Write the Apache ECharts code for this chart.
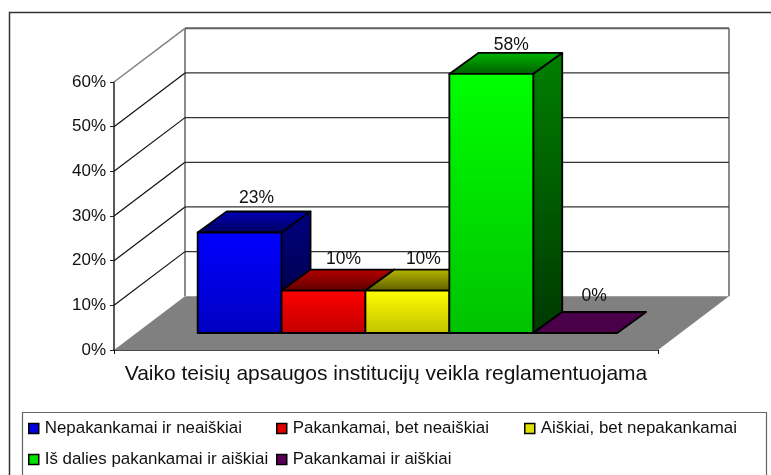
<!DOCTYPE html>
<html><head><meta charset="utf-8">
<style>html,body{margin:0;padding:0;background:#fff}#c{width:771px;height:475px}</style>
<script src="https://cdn.jsdelivr.net/npm/echarts@6/dist/echarts.min.js"></script>
</head><body><div id="c"></div>
<script>
const categories = ['Vaiko teisių apsaugos institucijų veikla reglamentuojama'];
const seriesNames = ['Nepakankamai ir neaiškiai','Pakankamai, bet neaiškiai','Aiškiai, bet nepakankamai','Iš dalies pakankamai ir aiškiai','Pakankamai ir aiškiai'];
const seriesValues = [22.5, 9.5, 9.5, 58, 0];
const yTicks = [0, 10, 20, 30, 40, 50, 60];

const baseColors = [[0,0,255],[255,0,0],[255,255,0],[0,255,0],[102,0,102]];
const FONT = '"Liberation Sans", Arial, sans-serif';
const chart = echarts.init(document.getElementById('c'), null, {renderer:'canvas'});

const rgb = (c, f) => `rgb(${Math.round(c[0]*f)},${Math.round(c[1]*f)},${Math.round(c[2]*f)})`;
const grad = (a, b) => ({type:'linear',x:0,y:0,x2:0,y2:1,colorStops:[{offset:0,color:a},{offset:1,color:b}]});

// projected depth of the chart box, and the bars' place inside that depth
const DEPTH = [71, -53.7], BAR_FRONT = [21.4, -17], BAR_DEPTH = [29, -21], BAR_SHARE = 83.9 / 544;
const labelNudge = [[-1,-2],[2,1],[-2,1],[2,3],[1,-5]];

function renderWall(params, api) {
  const cs = params.coordSys, v = api.value(1), y = api.coord([0, v])[1];
  const x0 = cs.x, x1 = cs.x + cs.width, bx0 = x0 + DEPTH[0], bx1 = x1 + DEPTH[0], by = y + DEPTH[1];
  const line = (a, b, c, d, col, w) => ({type:'line',shape:{x1:a,y1:b,x2:c,y2:d},style:{stroke:col,lineWidth:w}});
  const top = v === yTicks[yTicks.length-1], bottom = v === yTicks[0];
  const kids = [];
  if (bottom) {
    const ty = api.coord([0, yTicks[yTicks.length-1]])[1] + DEPTH[1];
    kids.push({type:'polygon',shape:{points:[[x0,y],[x1,y],[bx1,by],[bx0,by]]},style:{fill:'#808080'}});
    kids.push(line(bx0,ty,bx0,by,'#8c8c8c',2), line(bx1,ty,bx1,by,'#8c8c8c',2));
  } else {
    kids.push(line(x0,y,bx0,by, top ? '#808080' : '#111', top ? 1.5 : 1.2));
    kids.push(line(bx0,by,bx1,by, top ? '#606060' : '#333', top ? 2 : 1.3));
  }
  return {type:'group',children:kids};
}

function renderBar(params, api) {
  const i = params.seriesIndex - 1, c = baseColors[i], value = api.value(1);
  const band = api.size([1, 0])[0], w = band * BAR_SHARE, gap = (band - w * seriesNames.length) / 2;
  const left = params.coordSys.x + BAR_FRONT[0] + gap + w * i, right = left + w;
  const bottom = api.coord([0, 0])[1] + BAR_FRONT[1];
  const top = api.coord([0, value])[1] + BAR_FRONT[1];
  const dx = BAR_DEPTH[0], dy = BAR_DEPTH[1];
  const edge = {stroke:'#000', lineWidth:1.8, lineJoin:'round'};
  const kids = [];
  kids.push({type:'polygon',shape:{points:[[left,top],[right,top],[right+dx,top+dy],[left+dx,top+dy]]},
    style:Object.assign({fill: value === 0 ? rgb(c,0.72) : grad(rgb(c,0.72),rgb(c,0.36))}, edge)});
  if (value > 0) {
    kids.push({type:'polygon',shape:{points:[[right,top],[right+dx,top+dy],[right+dx,bottom+dy],[right,bottom]]},
      style:Object.assign({fill:grad(rgb(c,0.5),rgb(c,0.22))}, edge)});
    kids.push({type:'rect',shape:{x:left,y:top,width:w,height:bottom-top},
      style:Object.assign({fill:grad(rgb(c,1),rgb(c,0.76))}, edge)});
  }
  kids.push({type:'text',style:{text:Math.round(value)+'%',x:left+w/2+18+labelNudge[i][0],y:top+dy-11+labelNudge[i][1],
    align:'center',verticalAlign:'middle',font:'17.5px '+FONT,fill:'#111'}});
  return {type:'group',children:kids};
}

const legendSpots = [[28,420],[276,420],[524,420],[28,451],[276,451]];

chart.setOption({
  animation:false,
  backgroundColor:'#fff',
  grid:{left:114,right:113,top:82,bottom:125},
  xAxis:{type:'category',data:categories,
    axisLine:{lineStyle:{color:'#111',width:1.5}},
    axisTick:{show:true,length:4,lineStyle:{color:'#111'}},
    axisLabel:{fontFamily:FONT,fontSize:21,color:'#111',margin:14},
    splitLine:{show:false}},
  yAxis:{type:'value',min:0,max:60,interval:10,
    axisLine:{show:true,lineStyle:{color:'#222',width:1.5}},
    axisTick:{show:true,length:4,lineStyle:{color:'#222'}},
    axisLabel:{formatter:'{value}%',fontFamily:FONT,fontSize:17,color:'#111',margin:8},
    splitLine:{show:false}},
  legend:seriesNames.map((n,i)=>({show:true,data:[n],left:legendSpots[i][0],top:legendSpots[i][1],padding:0,
    itemWidth:10,itemHeight:10,icon:'rect',selectedMode:false,
    itemStyle:{borderColor:'#000',borderWidth:1.5},
    textStyle:{fontFamily:FONT,fontSize:16.9,color:'#111',padding:[0,0,0,1]}})),
  graphic:[
    {type:'polyline',silent:true,shape:{points:[[9.5,480],[9.5,12.5],[780,12.5]]},style:{fill:null,stroke:'#333',lineWidth:1.5}},
    {type:'polyline',silent:true,shape:{points:[[22.5,480],[22.5,412.5],[766.5,412.5],[766.5,480]]},style:{fill:null,stroke:'#666',lineWidth:1.2}}
  ],
  series:[
    {type:'custom',name:'walls',z:1,silent:true,clip:false,encode:{x:0,y:1},renderItem:renderWall,
     data:yTicks.map(t=>[0,t])},
    ...seriesNames.map((n,i)=>({type:'custom',name:n,z:3,silent:true,clip:false,encode:{x:0,y:1},
      itemStyle:{color:rgb(baseColors[i],0.88)},renderItem:renderBar,data:[[0,seriesValues[i]]]}))
  ]
});
</script></body></html>
